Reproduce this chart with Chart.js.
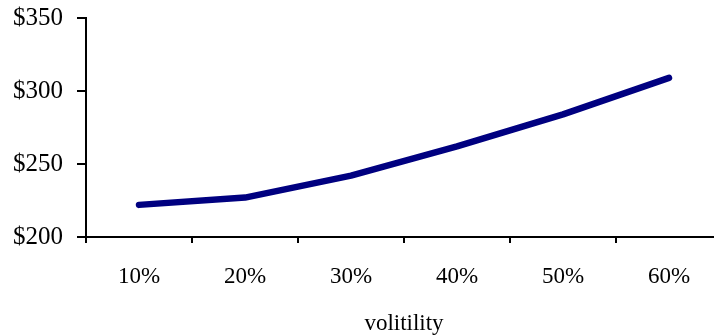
<!DOCTYPE html>
<html>
<head>
<meta charset="utf-8">
<script src="https://cdn.jsdelivr.net/npm/chart.js@4"></script>
<style>
  html, body { margin: 0; padding: 0; background: #fff; overflow: hidden; }
  #wrap { width: 730px; height: 335px; }
</style>
</head>
<body>
<div id="wrap"><canvas id="chart" width="730" height="335"></canvas></div>
<script>
// data
const labels = ["10%", "20%", "30%", "40%", "50%", "60%"];
const prices = [222, 227, 242, 262, 284, 309];
const yMin = 200;
const yMax = 350;
const yStep = 50;
const xTitle = "volitility";

const serif = "'Liberation Serif', 'Times New Roman', serif";
const font = { family: serif, size: 23 };
const titleFont = { family: serif, size: 23, lineHeight: 1.0 };
const yFont = { family: serif, size: 25 };

const data = {
  labels: labels,
  datasets: [{
    label: "Price",
    data: prices,
    borderColor: "#000080",
    backgroundColor: "#000080",
    borderWidth: 6.5,
    borderCapStyle: "round",
    borderJoinStyle: "round",
    pointRadius: 0,
    tension: 0,
    fill: false
  }]
};

const config = {
  type: "line",
  data: data,
  options: {
    responsive: false,
    animation: false,
    layout: { padding: { left: 0, right: 8, top: 18, bottom: 0 } },
    plugins: {
      legend: { display: false },
      tooltip: { enabled: false }
    },
    scales: {
      x: {
        offset: true,
        grid: { offset: true, drawOnChartArea: false, drawTicks: true, tickLength: 6, color: "#000", lineWidth: 2 },
        border: { color: "#000", width: 2 },
        ticks: { color: "#000", font: font, padding: 20, maxRotation: 0 },
        title: { display: true, text: xTitle, color: "#000", font: titleFont, padding: { top: 16, bottom: 0 } },
        afterFit(scale) { scale.height = 98; }
      },
      y: {
        min: yMin,
        max: yMax,
        grid: { drawOnChartArea: false, drawTicks: true, tickLength: 9, color: "#000", lineWidth: 2 },
        border: { color: "#000", width: 2 },
        ticks: {
          stepSize: yStep,
          color: "#000",
          font: yFont,
          padding: 14,
          callback: (v) => "$" + v
        },
        afterFit(scale) {
          scale.width = 86;
          scale.paddingTop = 0;
          scale.paddingBottom = 0;
        }
      }
    }
  }
};

const priceChart = new Chart(document.getElementById("chart"), config);
</script>
</body>
</html>
